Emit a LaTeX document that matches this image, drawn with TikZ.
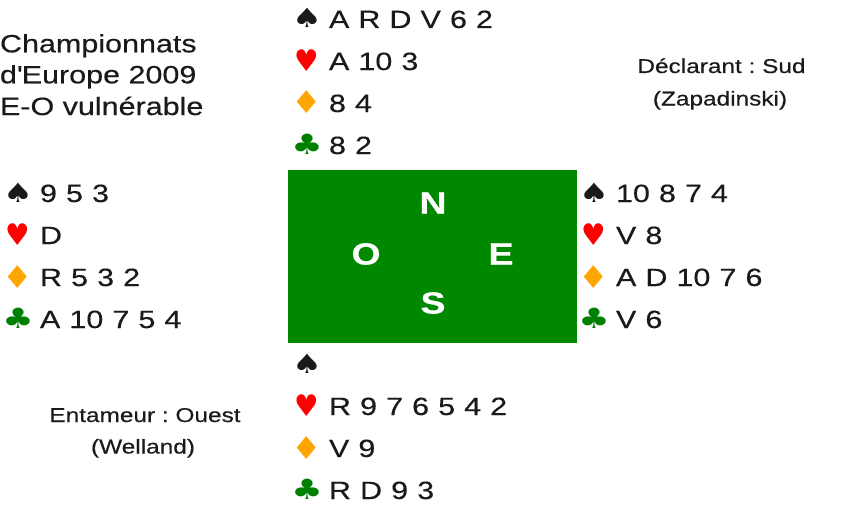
\documentclass[tikz,border=0pt]{standalone}
\usepackage{fontspec}
\setmainfont{Liberation Sans}[FakeStretch=1.22,FakeBold=0.4]
\newfontfamily\textejeu{Liberation Sans}[FakeStretch=1.22,FakeBold=0.4,WordSpace=1.07]
\newfontfamily\couleurs{DejaVu Sans}[FakeStretch=1.25]
\definecolor{encre}{HTML}{1A1A1A}
\definecolor{pique}{HTML}{1A1A1A}
\definecolor{coeur}{HTML}{FF0000}
\definecolor{carreau}{HTML}{FFA500}
\definecolor{trefle}{HTML}{008000}
\definecolor{tapis}{HTML}{008800}
\frenchspacing
% symbole de couleur, puis les cartes
\newcommand{\symb}[2]{\makebox[21pt]{\couleurs\fontsize{20}{20}\selectfont\color{#1}#2}\hspace{6pt}}
\newcommand{\jeu}[7]{%
  \node[rang] (#1-p) at (#2,#3) {\symb{pique}{♠}#4};
  \node[rang] (#1-co) at (#2,#3+42) {\symb{coeur}{\raisebox{-1.2pt}{\scalebox{0.82}[1.12]{♥}}}#5};
  \node[rang] (#1-ca) at (#2,#3+84) {\symb{carreau}{\raisebox{-1.5pt}{\scalebox{1.02}[1.18]{♦}}}#6};
  \node[rang] (#1-t) at (#2,#3+126) {\symb{trefle}{\scalebox{1.05}{♣}}#7};
}
\begin{document}
\begin{tikzpicture}[x=0.75pt,y=-0.75pt]
		\tikzstyle{every node}=[inner sep=0pt,outer sep=0pt,text=encre];
		\tikzstyle{rang}=[anchor=base west,font=\textejeu\fontsize{18.75}{18.75}\selectfont];
		\tikzstyle{titre}=[anchor=base west,font=\fontsize{18.75}{18.75}\selectfont];
		\tikzstyle{info}=[anchor=base,font=\fontsize{15}{15}\selectfont];
		\tikzstyle{point}=[text=white,font=\bfseries\fontsize{23}{23}\selectfont];
		\useasboundingbox (0,0) rectangle (848,510);
		\node[fill=tapis,minimum width=216.75pt,minimum height=129.75pt] (table) at (432.5,256.5) {};
		\node[point] (nord) at (433,203) {N};
		\node[point] (ouest) at (366,254) {O};
		\node[point] (est) at (501,254) {E};
		\node[point] (sud) at (433,303) {S};
		\jeu{N}{293}{28}{A R D V 6 2}{A 10 3}{8 4}{8 2}
		\jeu{O}{4}{202}{9 5 3}{D}{R 5 3 2}{A 10 7 5 4}
		\jeu{E}{580}{202}{10 8 7 4}{V 8}{A D 10 7 6}{V 6}
		\jeu{S}{293}{373}{}{R 9 7 6 5 4 2}{V 9}{R D 9 3}
		\node[titre] (titre1) at (0,52.3) {Championnats};
		\node[titre] (titre2) at (0,83.3) {d\textquotesingle Europe 2009};
		\node[titre] (titre3) at (0,115) {E-O vulnérable};
		\node[info] (declarant) at (721.5,73) {Déclarant : Sud};
		\node[info] (declarant2) at (720,105.5) {(Zapadinski)};
		\node[info] (entameur) at (145,422) {Entameur : Ouest};
		\node[info] (entameur2) at (143,453.5) {(Welland)};
\end{tikzpicture}
\end{document}
